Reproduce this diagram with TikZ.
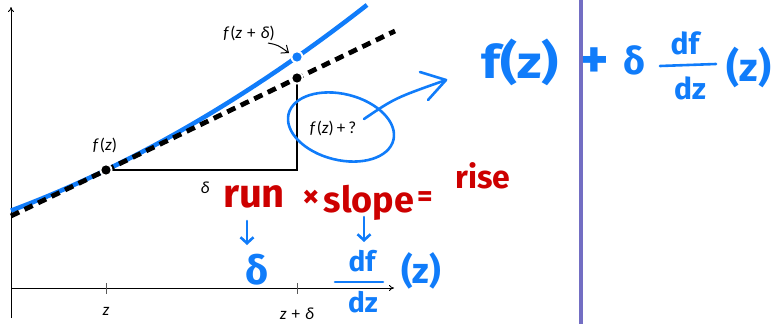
\documentclass[tikz,border=0pt]{standalone}
\usepackage{fontspec}
\setmainfont{Carlito}
\newfontfamily\hand{Fira Sans}
\usetikzlibrary{arrows.meta}
\definecolor{hblue}{RGB}{16,124,250}
\definecolor{hred}{RGB}{205,0,0}
\definecolor{divider}{RGB}{115,110,195}
\begin{document}
\begin{tikzpicture}[x=1pt,y=-1pt,
  lbl/.style={inner sep=0pt, font=\fontsize{17}{19}\selectfont},
  hb/.style={inner sep=0pt, text=hblue, font=\hand\bfseries\fontsize{#1}{#1}\selectfont},
  hr/.style={inner sep=0pt, text=hred, font=\hand\bfseries\fontsize{#1}{#1}\selectfont},
  axisline/.style={line width=0.8pt, -{To[length=5pt,width=6pt]}},
  tickline/.style={line width=0.6pt, gray!70!black},
  bluepen/.style={hblue, line width=2.6pt, line cap=round, line join=round},
  downarrow/.style={bluepen, -{Straight Barb[length=6pt,width=13pt]}},
]
\useasboundingbox (0,0) rectangle (777,324);
% axes
\coordinate (O) at (11,288);
\coordinate (ytop) at (11,7);
\coordinate (ybot) at (11,318);
\coordinate (xend) at (394,288);
\draw[axisline] (ybot) -- (ytop);
\draw[axisline] (O) -- (xend);
\coordinate (t1a) at (106,283); \coordinate (t1b) at (106,294);
\coordinate (t2a) at (297,283); \coordinate (t2b) at (297,294);
\draw[tickline] (t1a) -- (t1b);
\draw[tickline] (t2a) -- (t2b);
\node[lbl] (zl) at (106,311) {\textit{z}};
\node[lbl] (zdl) at (297,314) {\textit{z}\hspace{5pt}+\hspace{5pt}\textit{δ}};
% curve
\draw[hblue, line width=4.5pt] plot[domain=11:367, samples=80] (\x, {170-0.482*(\x-106)-((\x-106)*0.024)^2});
% tangent
\coordinate (tA) at (11,216);
\coordinate (tB) at (395,31);
\draw[black, line width=4.8pt, dash pattern=on 9pt off 6pt] (tA) -- (tB);
% triangle
\coordinate (P) at (106,170);
\coordinate (C) at (297,170);
\coordinate (T) at (297,78);
\coordinate (Q) at (297,57);
\draw[line width=1.1pt] (P) -- (C) -- (T);
% dots
\fill[white] (P) circle (6.5); \fill[black] (P) circle (4.6);
\fill[white] (T) circle (6.5); \fill[black] (T) circle (4.6);
\fill[white] (Q) circle (6.5); \fill[hblue] (Q) circle (4.6);
% printed labels
\node[lbl] (fzl) at (105,145) {\textit{f}\hspace{1pt}(\textit{z})};
\node[lbl] (dl) at (205,188) {\textit{δ}};
\node[lbl] (fzdl) at (249,33) {\textit{f}\hspace{1pt}(\textit{z}\hspace{5pt}+\hspace{5pt}\textit{δ})};
\coordinate (a1) at (268,43);
\coordinate (a2) at (289,53);
\draw[line width=1pt, -{Straight Barb[length=6pt,width=10pt]}] (a1) .. controls (278,45) .. (a2);
\node[lbl] (fzq) at (333,128) {\textit{f}\hspace{1pt}(\textit{z})\hspace{3pt}+\hspace{3pt}?};
% circle + arrow
\draw[bluepen] (341,127) [rotate around={-14:(341,127)}] ellipse [x radius=54, y radius=33];
\coordinate (e1) at (364,119);
\coordinate (e2) at (446,80);
\draw[bluepen] (e1) .. controls (395,98) .. (e2);
\coordinate (h1) at (420,72);
\coordinate (h2) at (428,100);
\draw[bluepen] (h1) -- (e2) -- (h2);
% top-right formula
\node[hb=46, xscale=1.15] (tf) at (520,62) {f(z)};
\node[hb=56] (tplus) at (594,63) {+};
% divider
\coordinate (d1) at (581,0);
\coordinate (d2) at (581,324);
\draw[divider, line width=3.8pt] (d1) -- (d2);
\node[hb=38] (tdelta) at (634,60) {δ};
\node[hb=30] (tdf) at (685,43) {df};
\coordinate (fb1) at (660,66);
\coordinate (fb2) at (716,64);
\draw[bluepen] (fb1) -- (fb2);
\node[hb=30] (tdz) at (690,88) {dz};
\node[hb=40] (tz) at (749,67) {(z)};
% red equation
\node[hr=40] (run) at (254,197) {run};
\node[hr=34] (times) at (311,199) {×};
\node[hr=36] (slope) at (369,203) {slope};
\node[hr=30] (eq) at (425,199) {=};
\node[hr=32] (rise) at (483,176) {rise};
% blue arrows and answers
\coordinate (r1) at (247,221); \coordinate (r2) at (247,245);
\coordinate (s1) at (364,217); \coordinate (s2) at (364,242);
\draw[downarrow] (r1) -- (r2);
\draw[downarrow] (s1) -- (s2);
\node[hb=40] (bdelta) at (257,270) {δ};
\node[hb=28] (bdf) at (362,261) {df};
\coordinate (bb1) at (335,282);
\coordinate (bb2) at (383,282);
\draw[bluepen] (bb1) -- (bb2);
\node[hb=28] (bdz) at (363,302) {dz};
\node[hb=36] (bz) at (421,271) {(z)};
\end{tikzpicture}
\end{document}
